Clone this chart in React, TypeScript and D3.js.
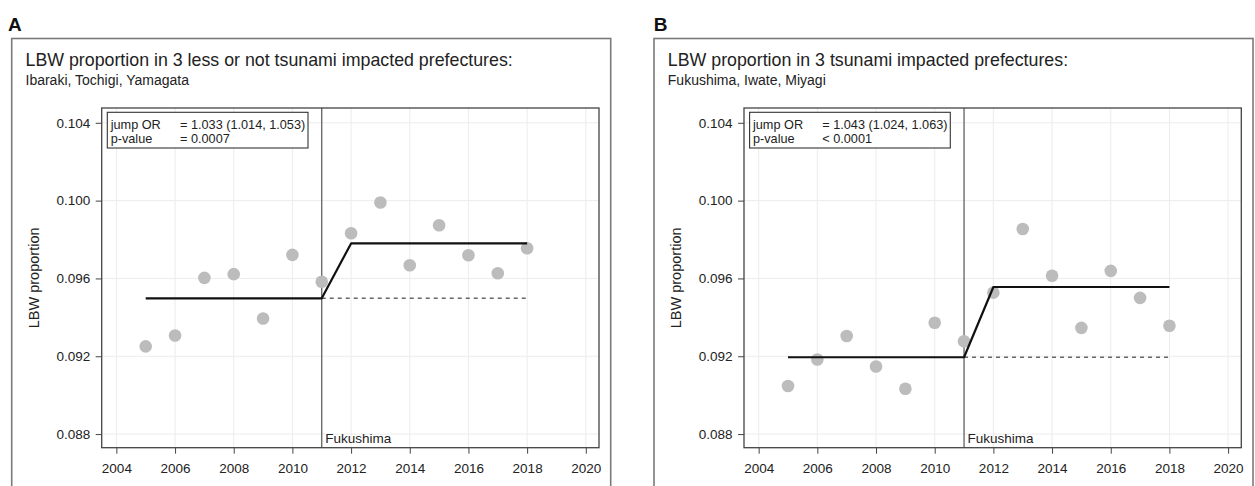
import React, {useEffect, useRef} from 'react';
import * as d3 from 'd3';

// LBW proportion by year
const years = [2005, 2006, 2007, 2008, 2009, 2010, 2011, 2012, 2013, 2014, 2015, 2016, 2017, 2018];
const lbwLessImpacted = [0.09251, 0.09307, 0.09603, 0.09622, 0.09394, 0.09721, 0.09583, 0.09832, 0.09990, 0.09668, 0.09873, 0.09719, 0.09627, 0.09755];
const lbwTsunamiImpacted = [0.09047, 0.09183, 0.09304, 0.09147, 0.09033, 0.09372, 0.09277, 0.09527, 0.09854, 0.09614, 0.09346, 0.09639, 0.09500, 0.09357];

// fitted step levels (pre / post 2011)
const fitLess = {pre: 0.09498, post: 0.09780};
const fitTsunami = {pre: 0.09195, post: 0.09556};

const xTicks = [2004, 2006, 2008, 2010, 2012, 2014, 2016, 2018, 2020];
const yTicks = [0.088, 0.092, 0.096, 0.100, 0.104];
const eventYear = 2011;
const fitStart = 2005;
const fitEnd = 2018;

const W = 1255;
const H = 486;
const FONT = '"Liberation Sans", Arial, Helvetica, sans-serif';

interface PanelDef {
  letter: string
  offset: number
  letterX: number
  title: string
  subtitle: string
  values: number[]
  fit: {pre: number, post: number}
  orText: string
  pOp: string
  pText: string
}

const panels: PanelDef[] = [
  {
    letter: 'A', offset: 0, letterX: 8,
    title: 'LBW proportion in 3 less or not tsunami impacted prefectures:',
    subtitle: 'Ibaraki, Tochigi, Yamagata',
    values: lbwLessImpacted, fit: fitLess,
    orText: '= 1.033 (1.014, 1.053)', pOp: '=', pText: '0.0007'
  },
  {
    letter: 'B', offset: 642.3, letterX: 11.5,
    title: 'LBW proportion in 3 tsunami impacted prefectures:',
    subtitle: 'Fukushima, Iwate, Miyagi',
    values: lbwTsunamiImpacted, fit: fitTsunami,
    orText: '= 1.043 (1.024, 1.063)', pOp: '<', pText: '0.0001'
  }
];

const App: React.FC = () => {
  const ref = useRef<SVGSVGElement>(null);

  useEffect(() => {
    const svg = d3.select(ref.current);
    svg.selectAll('*').remove();

    const frame = {left: 11.7, right: 610.7, top: 38.5};
    const plot = {left: 101.7, right: 599, top: 108, bottom: 447.7};

    const x = d3.scaleLinear([2003.5, 2020.45], [plot.left, plot.right]);
    const y = d3.scaleLinear([0.0873, 0.10476], [plot.bottom, plot.top]);

    panels.forEach(p => {
      const g = svg.append('g')
        .attr('transform', `translate(${p.offset},0)`)
        .attr('font-family', FONT);

      // panel letter
      g.append('text')
        .attr('x', p.letterX).attr('y', 31)
        .attr('font-size', 19).attr('font-weight', 'bold').attr('fill', '#111')
        .text(p.letter);

      // outer frame (runs off the bottom of the image)
      g.append('rect')
        .attr('x', frame.left).attr('y', frame.top)
        .attr('width', frame.right - frame.left).attr('height', H)
        .attr('fill', 'none').attr('stroke', '#7a7a7a').attr('stroke-width', 1.6);

      g.append('text')
        .attr('x', frame.left + 13.8).attr('y', 65.5)
        .attr('font-size', 17.8).attr('fill', '#222')
        .text(p.title);
      g.append('text')
        .attr('x', frame.left + 13.8).attr('y', 84.5)
        .attr('font-size', 14).attr('fill', '#222')
        .text(p.subtitle);

      // grid
      g.append('g').selectAll('line.gx').data(xTicks).join('line')
        .attr('x1', d => x(d)).attr('x2', d => x(d))
        .attr('y1', plot.top).attr('y2', plot.bottom)
        .attr('stroke', '#ececec').attr('stroke-width', 1);
      g.append('g').selectAll('line.gy').data(yTicks).join('line')
        .attr('y1', d => y(d)).attr('y2', d => y(d))
        .attr('x1', plot.left).attr('x2', plot.right)
        .attr('stroke', '#ececec').attr('stroke-width', 1);

      // x axis
      const xAxis = g.append('g')
        .attr('transform', `translate(0,${plot.bottom})`)
        .call(d3.axisBottom(x).tickValues(xTicks).tickFormat(d3.format('d')).tickSize(6).tickSizeOuter(0))
        .call(a => a.select('.domain').remove());
      xAxis.selectAll('line').attr('stroke', '#444');
      xAxis.selectAll('text').attr('font-family', FONT).attr('font-size', 13.5).attr('fill', '#222')
        .attr('y', 25.6).attr('dy', 0);

      // y axis
      const yAxis = g.append('g')
        .attr('transform', `translate(${plot.left},0)`)
        .call(d3.axisLeft(y).tickValues(yTicks).tickFormat(d3.format('.3f')).tickSize(6).tickSizeOuter(0))
        .call(a => a.select('.domain').remove());
      yAxis.selectAll('line').attr('stroke', '#444');
      yAxis.selectAll('text').attr('font-family', FONT).attr('font-size', 13.5).attr('fill', '#222').attr('x', -11.5);

      g.append('text')
        .attr('transform', `translate(39,${(plot.top + plot.bottom) / 2}) rotate(-90)`)
        .attr('text-anchor', 'middle').attr('font-size', 14.5).attr('fill', '#222')
        .text('LBW proportion');

      // event line
      g.append('line')
        .attr('x1', x(eventYear)).attr('x2', x(eventYear))
        .attr('y1', plot.top).attr('y2', plot.bottom)
        .attr('stroke', '#555').attr('stroke-width', 1.2);
      g.append('text')
        .attr('x', x(eventYear) + 3.5).attr('y', 442.5)
        .attr('font-size', 13.5).attr('fill', '#222')
        .text('Fukushima');

      // points
      g.append('g').selectAll('circle').data(years).join('circle')
        .attr('cx', (d) => x(d))
        .attr('cy', (_d, i) => y(p.values[i]))
        .attr('r', 6.3)
        .attr('fill', '#bcbcbc');

      // counterfactual
      const dashed = d3.line<[number, number]>().x(d => x(d[0])).y(d => y(d[1]));
      g.append('path')
        .attr('d', dashed([[eventYear, p.fit.pre], [fitEnd, p.fit.pre]]))
        .attr('fill', 'none').attr('stroke', '#666').attr('stroke-width', 1.5)
        .attr('stroke-dasharray', '4,4');

      // fitted step
      const fitPts: [number, number][] = [
        [fitStart, p.fit.pre], [eventYear, p.fit.pre],
        [eventYear + 1, p.fit.post], [fitEnd, p.fit.post]
      ];
      g.append('path')
        .attr('d', dashed(fitPts))
        .attr('fill', 'none').attr('stroke', '#111').attr('stroke-width', 2.2)
        .attr('stroke-linejoin', 'round');

      // plot frame
      g.append('rect')
        .attr('x', plot.left).attr('y', plot.top)
        .attr('width', plot.right - plot.left).attr('height', plot.bottom - plot.top)
        .attr('fill', 'none').attr('stroke', '#444').attr('stroke-width', 1.3);

      // stats box
      g.append('rect')
        .attr('x', 107.3).attr('y', 112.3).attr('width', 200.7).attr('height', 35.7)
        .attr('fill', 'white').attr('stroke', '#333').attr('stroke-width', 1.1);
      g.append('text').attr('x', 110.7).attr('y', 129).attr('font-size', 12.7).attr('fill', '#222').text('jump OR');
      g.append('text').attr('x', 180).attr('y', 129).attr('font-size', 12.7).attr('fill', '#222').text(p.orText);
      g.append('text').attr('x', 110.7).attr('y', 142.7).attr('font-size', 12.7).attr('fill', '#222').text('p-value');
      g.append('text').attr('x', 180).attr('y', 142.7).attr('font-size', 12.7).attr('fill', '#222').text(`${p.pOp} ${p.pText}`);
    });
  }, []);

  return <svg ref={ref} width={W} height={H}
              style={{position: 'absolute', left: 0, top: 0, background: 'white'}}/>;
};

export default App;
